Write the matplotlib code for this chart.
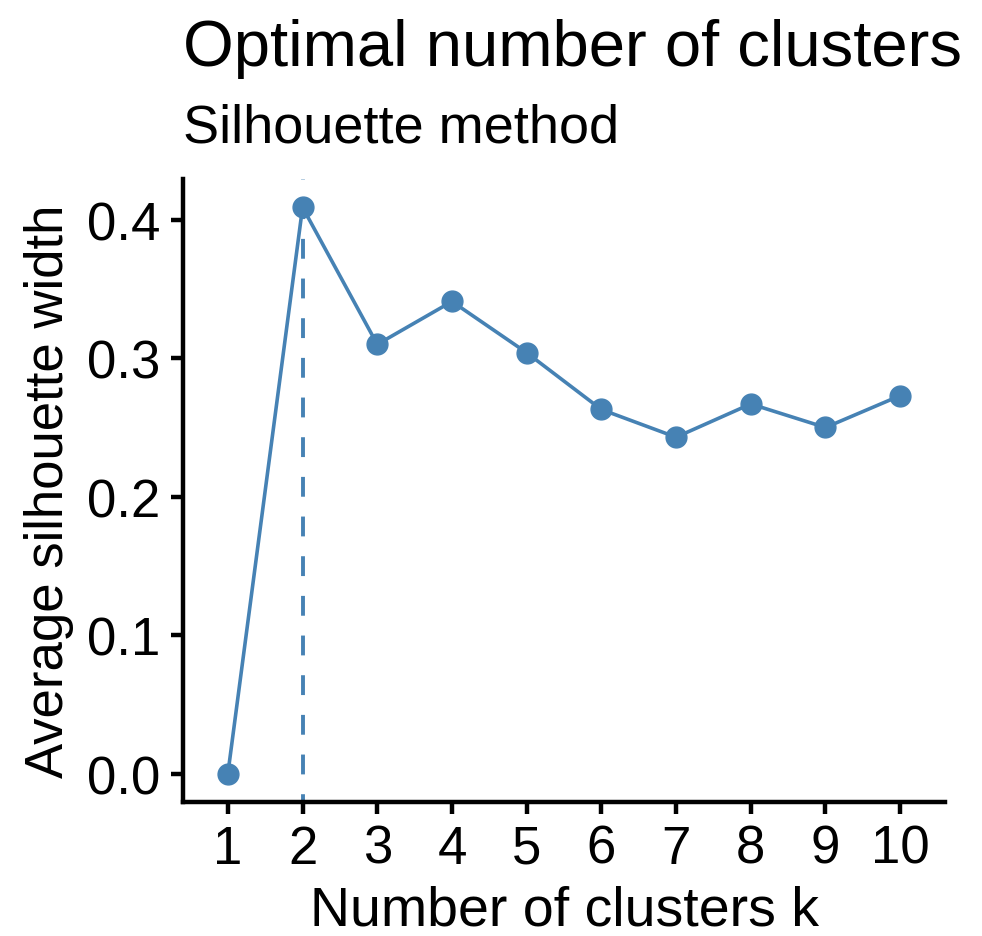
import numpy as np
import matplotlib.pyplot as plt

plt.rcParams['font.family'] = ['Liberation Sans', 'DejaVu Sans']

# silhouette width per number of clusters
clusters_k = [1, 2, 3, 4, 5, 6, 7, 8, 9, 10]
avg_silhouette = [0.0, 0.409, 0.310, 0.341, 0.304, 0.263, 0.243, 0.267, 0.250, 0.273]
optimal_k = 2
y_ticks = [0.0, 0.1, 0.2, 0.3, 0.4]

cor = '#4682B4'

fig = plt.figure(figsize=(9.82, 9.37), dpi=100)
ax = fig.add_axes([0.1864, 0.1430, 0.7759, 0.6649])

ax.plot(clusters_k, avg_silhouette, color=cor, linewidth=2.6, marker='o',
        markersize=15, zorder=3)
ax.axvline(optimal_k, color=cor, linestyle=(3.1, (5.1, 5.1)), linewidth=2.8, zorder=2)

ax.set_xlim(0.4, 10.6)
ymax = max(avg_silhouette)
ax.set_ylim(-0.05 * ymax, 1.05 * ymax)
ax.set_xticks(clusters_k)
ax.set_xticklabels([str(k) for k in clusters_k])
ax.set_yticks(y_ticks)
ax.set_yticklabels([f'{v:.1f}' for v in y_ticks])

for lado in ['top', 'right']:
    ax.spines[lado].set_visible(False)
for lado in ['left', 'bottom']:
    ax.spines[lado].set_linewidth(3.2)
    ax.spines[lado].set_capstyle('projecting')
ax.tick_params(axis='both', length=8.5, width=3.2, labelsize=38, pad=7, colors='black')
ax.tick_params(axis='y', pad=8)

ax.set_xlabel('Number of clusters k', fontsize=40, labelpad=8)
ax.set_ylabel('Average silhouette width', fontsize=38, labelpad=9)

fig.text(0.1864, 0.9296, 'Optimal number of clusters', fontsize=47, ha='left', va='baseline')
fig.text(0.1864, 0.8484, 'Silhouette method', fontsize=39, ha='left', va='baseline')

fig.savefig('out.png', dpi=100)
